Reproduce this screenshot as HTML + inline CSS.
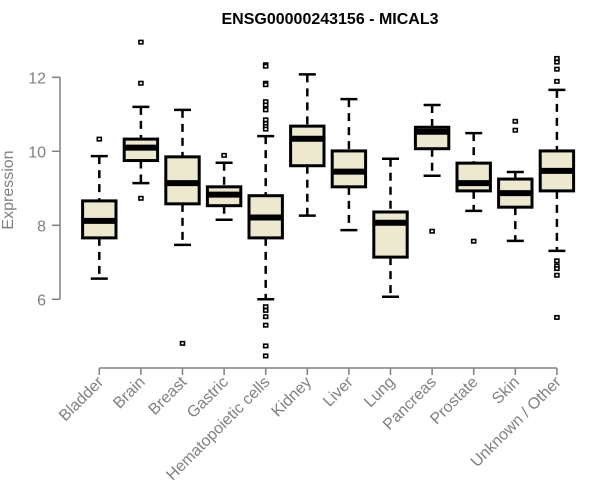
<!DOCTYPE html>
<html><head><meta charset="utf-8"><style>
body{margin:0;background:#fff;}
svg{display:block;font-family:"Liberation Sans",sans-serif;}
</style></head><body>
<svg id="chart" width="600" height="500">
<text x="330" y="24" text-anchor="middle" font-weight="bold" font-size="16" fill="#000">ENSG00000243156 - MICAL3</text>
<text transform="translate(13,190) rotate(-90)" text-anchor="middle" font-size="16" fill="#808080">Expression</text>
<g id="yaxis"></g>
<g id="xaxis"></g>
<g id="plot"></g>
</svg>
<script>
const categories=["Bladder","Brain","Breast","Gastric","Hematopoietic cells","Kidney","Liver","Lung","Pancreas","Prostate","Skin","Unknown / Other"];
const whiskerHigh=[9.87,11.2,11.12,9.69,10.41,12.08,11.41,9.8,11.25,10.49,9.44,11.66];
const q3=[8.66,10.33,9.85,9.04,8.8,10.68,10.01,8.36,10.65,9.68,9.25,10.01];
const medians=[8.12,10.1,9.14,8.83,8.21,10.34,9.45,8.07,10.53,9.14,8.87,9.47];
const q1=[7.66,9.75,8.58,8.53,7.66,9.61,9.04,7.14,10.07,8.93,8.49,8.93];
const whiskerLow=[6.56,9.14,7.47,8.15,6.0,8.26,7.87,6.07,9.34,8.39,7.58,7.31];
const outliers=[[10.33],[12.95,11.84,8.73],[4.81],[9.89],[12.34,12.3,11.84,11.8,11.34,11.25,11.12,10.85,10.75,10.67,10.6,5.8,5.7,5.53,5.3,4.74,4.47],[],[],[],[7.84],[7.57],[10.81,10.57],[12.51,12.41,12.22,11.89,7.04,6.9,6.83,6.65,5.51]];
const yTicks=[6,8,10,12];
const NS="http://www.w3.org/2000/svg";
function y(v){return 151.3-(v-10)*37;}
function x(i){return 99.3+i*41.6;}
function mk(tag,attrs,parent){const e=document.createElementNS(NS,tag);for(const k in attrs)e.setAttribute(k,attrs[k]);parent.appendChild(e);return e;}
const ya=document.getElementById('yaxis'),xa=document.getElementById('xaxis'),pl=document.getElementById('plot');
mk('line',{x1:60,x2:60,y1:y(12),y2:y(6),stroke:'#808080','stroke-width':1.5},ya);
yTicks.forEach(t=>{
 const l=mk('line',{x1:52,x2:60,y1:y(t),y2:y(t),stroke:'#808080','stroke-width':1.5},ya);
 
 
 const tx=mk('text',{x:46,y:y(t)+6,'text-anchor':'end','font-size':16,fill:'#808080'},ya);
 tx.textContent=t;
 
 
});
mk('line',{x1:x(0),x2:x(categories.length-1),y1:368,y2:368,stroke:'#808080','stroke-width':1.5},xa);
categories.forEach((c,i)=>{
 const cx=x(i);
 const tk=mk('line',{x1:cx,x2:cx,y1:368,y2:375,stroke:'#808080','stroke-width':1.5},xa);
 
 
 const tx=mk('text',{transform:`translate(${cx+5},${383}) rotate(-45)`,'text-anchor':'end','font-size':16,fill:'#808080'},xa);
 tx.textContent=c;
 
 
 const g=mk('g',{},pl);
 
 
 const w=16.7,cap=8.5;
 mk('line',{x1:cx,x2:cx,y1:y(whiskerHigh[i]),y2:y(q3[i]),stroke:'#000','stroke-width':2.5,'stroke-dasharray':'8,6'},g);
 mk('line',{x1:cx,x2:cx,y1:y(q1[i]),y2:y(whiskerLow[i]),stroke:'#000','stroke-width':2.5,'stroke-dasharray':'8,6'},g);
 mk('line',{x1:cx-cap,x2:cx+cap,y1:y(whiskerHigh[i]),y2:y(whiskerHigh[i]),stroke:'#000','stroke-width':2.5},g);
 mk('line',{x1:cx-cap,x2:cx+cap,y1:y(whiskerLow[i]),y2:y(whiskerLow[i]),stroke:'#000','stroke-width':2.5},g);
 mk('rect',{x:cx-w,y:y(q3[i]),width:2*w,height:y(q1[i])-y(q3[i]),fill:'#ede8d0',stroke:'#000','stroke-width':3},g);
 mk('line',{x1:cx-w,x2:cx+w,y1:y(medians[i]),y2:y(medians[i]),stroke:'#000','stroke-width':6},g);
 outliers[i].forEach(o=>{
  const p=mk('rect',{x:cx-2,y:y(o)-1.7,width:4,height:3.4,fill:'#fff',stroke:'#000','stroke-width':1.6},g);
  
  
 });
});
</script>
</body></html>
